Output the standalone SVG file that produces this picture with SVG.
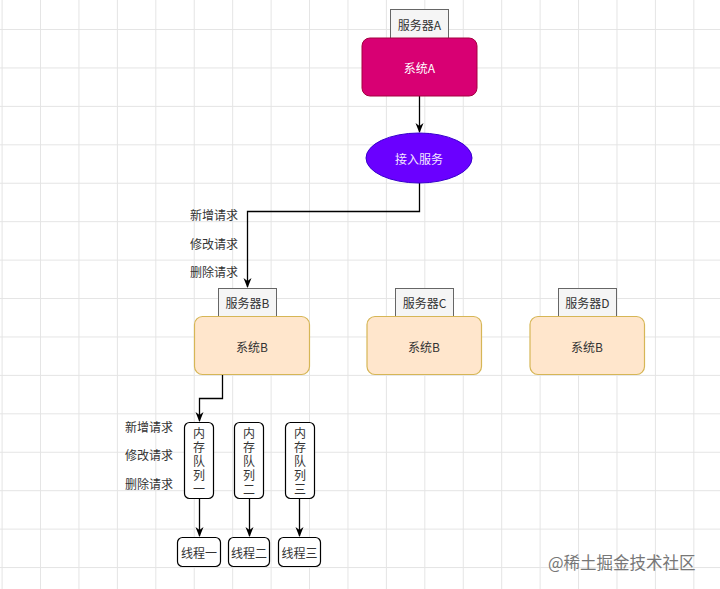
<svg xmlns="http://www.w3.org/2000/svg" width="720" height="589" viewBox="0 0 720 589">
<defs>
<pattern id="grid" x="1.6" y="-9.4" width="38.43" height="38.43" patternUnits="userSpaceOnUse">
<path d="M0 0.5 H38.43 M0.5 0 V38.43" fill="none" stroke="#e4e4e4" stroke-width="1"/>
</pattern>
<marker id="arr" viewBox="0 0 10 10" refX="9" refY="5" markerWidth="10" markerHeight="10" markerUnits="userSpaceOnUse" orient="auto">
<path d="M0 1 L10 5 L0 9 L3 5 Z" fill="#000"/>
</marker>
<style>
text{font-family:"Microsoft YaHei","Noto Sans CJK SC","Liberation Sans",sans-serif;font-size:12px;fill:#333;}
.c{text-anchor:middle;dominant-baseline:central;}
.v{writing-mode:vertical-rl;text-anchor:middle;letter-spacing:2px;}
.srv{fill:#f5f5f5;stroke:#666;stroke-width:1;}
.sysb{fill:#ffe6cc;stroke:#d6b656;stroke-width:1.2;}
.q{fill:#fff;stroke:#000;stroke-width:1.2;}
.line{fill:none;stroke:#000;stroke-width:1.3;}
</style>
</defs>
<rect width="720" height="589" fill="#fff"/>
<rect width="720" height="589" fill="url(#grid)"/>

<g id="connectors">
<path class="line" d="M419.5 96 V132" marker-end="url(#arr)"/>
<path class="line" d="M419.5 183 V211.5 H247.5 V287" marker-end="url(#arr)"/>
<path class="line" d="M222.5 374 V398.5 H199.5 V421" marker-end="url(#arr)"/>
<path class="line" d="M199.5 498 V536" marker-end="url(#arr)"/>
<path class="line" d="M249.5 498 V536" marker-end="url(#arr)"/>
<path class="line" d="M299.5 498 V536" marker-end="url(#arr)"/>
</g>

<g id="labels1">
<text x="190" y="220">新增请求</text>
<text x="190" y="249">修改请求</text>
<text x="190" y="277">删除请求</text>
</g>
<g id="labels2">
<text x="125" y="432">新增请求</text>
<text x="125" y="460">修改请求</text>
<text x="125" y="489">删除请求</text>
</g>

<g id="serverA">
<rect class="srv" x="390.5" y="9.5" width="58" height="29"/>
<text class="c" x="419.5" y="24">服务器A</text>
</g>
<g id="systemA">
<rect x="362" y="38" width="115" height="58" rx="8" fill="#d80073" stroke="#a50040" stroke-width="1"/>
<text class="c" x="419.5" y="67" style="fill:#ffffff">系统A</text>
</g>
<g id="access">
<ellipse cx="419" cy="158" rx="53" ry="25" fill="#6a00ff" stroke="#3700cc" stroke-width="1"/>
<text class="c" x="419" y="158" style="fill:#f3e6ff">接入服务</text>
</g>

<g id="serverB">
<rect class="srv" x="218.5" y="288.5" width="58" height="28"/>
<text class="c" x="247.5" y="302.5">服务器B</text>
</g>
<g id="systemB1">
<rect class="sysb" x="194.5" y="316.5" width="115" height="58" rx="8"/>
<text class="c" x="252" y="346">系统B</text>
</g>
<g id="serverC">
<rect class="srv" x="395.5" y="288.5" width="58" height="28"/>
<text class="c" x="424.5" y="302.5">服务器C</text>
</g>
<g id="systemB2">
<rect class="sysb" x="367" y="316.5" width="114.5" height="58" rx="8"/>
<text class="c" x="424" y="346">系统B</text>
</g>
<g id="serverD">
<rect class="srv" x="558.5" y="288.5" width="58" height="28"/>
<text class="c" x="587.5" y="302.5">服务器D</text>
</g>
<g id="systemB3">
<rect class="sysb" x="530" y="316.5" width="114.5" height="58" rx="8"/>
<text class="c" x="587" y="346">系统B</text>
</g>

<g id="queue1">
<rect class="q" x="184.5" y="422.5" width="29" height="76" rx="5"/>
<text class="v" x="199" y="462">内存队列一</text>
</g>
<g id="queue2">
<rect class="q" x="234.5" y="422.5" width="29" height="76" rx="5"/>
<text class="v" x="249" y="462">内存队列二</text>
</g>
<g id="queue3">
<rect class="q" x="285.5" y="422.5" width="29" height="76" rx="5"/>
<text class="v" x="300" y="462">内存队列三</text>
</g>

<g id="thread1">
<rect class="q" x="177.5" y="537.5" width="43" height="29" rx="5"/>
<text class="c" x="199" y="552">线程一</text>
</g>
<g id="thread2">
<rect class="q" x="228.5" y="537.5" width="41" height="29" rx="5"/>
<text class="c" x="249" y="552">线程二</text>
</g>
<g id="thread3">
<rect class="q" x="278.5" y="537.5" width="42" height="29" rx="5"/>
<text class="c" x="299.5" y="552">线程三</text>
</g>

<text x="548" y="569" style="font-size:16.5px;fill:#777">@稀土掘金技术社区</text>
</svg>
